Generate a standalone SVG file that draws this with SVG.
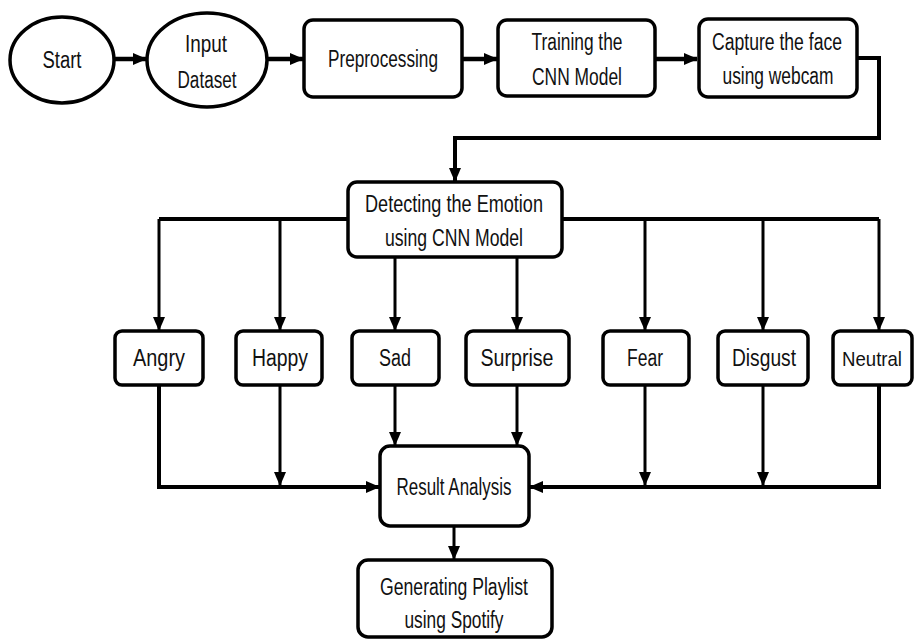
<svg xmlns="http://www.w3.org/2000/svg" width="914" height="643" viewBox="0 0 914 643">
<defs>
<marker id="ah" markerUnits="userSpaceOnUse" markerWidth="14" markerHeight="14" viewBox="0 0 14 14" refX="13" refY="7" orient="auto">
<path d="M0,1 L14,7 L0,13 Z" fill="#000"/>
</marker>
</defs>
<style>
.n{fill:#fff;stroke:#000;stroke-width:3.5}
.t{font-family:"Liberation Sans",Arial,sans-serif;font-size:23px;fill:#111;text-anchor:middle}
.c{fill:none;stroke:#000;stroke-width:3;stroke-linejoin:miter}
.k{stroke-width:4.5}
</style>
<rect width="914" height="643" fill="#fff"/>
<g id="connectors">
<path class="c k" d="M115,59 H146" marker-end="url(#ah)"/>
<path class="c k" d="M268,59 H303" marker-end="url(#ah)"/>
<path class="c k" d="M462,59 H497" marker-end="url(#ah)"/>
<path class="c k" d="M655,59 H697" marker-end="url(#ah)"/>
<path class="c" style="stroke-width:4" d="M857,58 H879 V138 H455 V181" marker-end="url(#ah)"/>
<path class="c" style="stroke-width:4" d="M348,219 H159"/>
<path class="c" style="stroke-width:4" d="M562,219 H879"/>
<path class="c" d="M159,219 V330" marker-end="url(#ah)"/>
<path class="c" d="M280,219 V330" marker-end="url(#ah)"/>
<path class="c" d="M395,257 V330" marker-end="url(#ah)"/>
<path class="c" d="M517,257 V330" marker-end="url(#ah)"/>
<path class="c" d="M645,219 V330" marker-end="url(#ah)"/>
<path class="c" d="M763,219 V330" marker-end="url(#ah)"/>
<path class="c" d="M879,219 V330" marker-end="url(#ah)"/>
<path class="c" d="M159,385 V487 H379" marker-end="url(#ah)" style="stroke-width:4"/>
<path class="c" d="M879,385 V487 H530" marker-end="url(#ah)" style="stroke-width:4"/>
<path class="c" d="M280,385 V485" marker-end="url(#ah)"/>
<path class="c" d="M645,385 V485" marker-end="url(#ah)"/>
<path class="c" d="M763,385 V485" marker-end="url(#ah)"/>
<path class="c" d="M395,385 V445" marker-end="url(#ah)"/>
<path class="c" d="M517,385 V445" marker-end="url(#ah)"/>
<path class="c" d="M454,526 V559" marker-end="url(#ah)"/>
</g>
<g id="start"><ellipse class="n" cx="62" cy="60" rx="52" ry="43"/><text class="t" x="62" y="68" textLength="39" lengthAdjust="spacingAndGlyphs">Start</text></g>
<g id="input"><ellipse class="n" cx="207" cy="60" rx="60" ry="47"/><text class="t" x="206" y="52" textLength="42" lengthAdjust="spacingAndGlyphs">Input</text><text class="t" x="207" y="88" textLength="59" lengthAdjust="spacingAndGlyphs">Dataset</text></g>
<g id="preprocessing"><rect class="n" x="304" y="20" width="158" height="77" rx="9"/><text class="t" x="383" y="67" textLength="110" lengthAdjust="spacingAndGlyphs">Preprocessing</text></g>
<g id="training"><rect class="n" x="498" y="20" width="157" height="76" rx="9"/><text class="t" x="577" y="50" textLength="91" lengthAdjust="spacingAndGlyphs">Training the</text><text class="t" x="577" y="85" textLength="90" lengthAdjust="spacingAndGlyphs">CNN Model</text></g>
<g id="capture"><rect class="n" x="699" y="19" width="158" height="78" rx="9"/><text class="t" x="777" y="50" textLength="130" lengthAdjust="spacingAndGlyphs">Capture the face</text><text class="t" x="778" y="84" textLength="111" lengthAdjust="spacingAndGlyphs">using webcam</text></g>
<g id="detecting"><rect class="n" x="348" y="182" width="214" height="75" rx="9"/><text class="t" x="454" y="212" textLength="178" lengthAdjust="spacingAndGlyphs">Detecting the Emotion</text><text class="t" x="454" y="246" textLength="138" lengthAdjust="spacingAndGlyphs">using CNN Model</text></g>
<g id="angry"><rect class="n" x="115" y="331" width="88" height="54" rx="7"/><text class="t" x="159" y="366" textLength="52" lengthAdjust="spacingAndGlyphs">Angry</text></g>
<g id="happy"><rect class="n" x="236" y="331" width="86" height="54" rx="7"/><text class="t" x="280" y="366" textLength="56" lengthAdjust="spacingAndGlyphs">Happy</text></g>
<g id="sad"><rect class="n" x="352" y="331" width="87" height="54" rx="7"/><text class="t" x="395" y="366" textLength="32" lengthAdjust="spacingAndGlyphs">Sad</text></g>
<g id="surprise"><rect class="n" x="466" y="331" width="103" height="54" rx="7"/><text class="t" x="517" y="366" textLength="73" lengthAdjust="spacingAndGlyphs">Surprise</text></g>
<g id="fear"><rect class="n" x="603" y="331" width="86" height="54" rx="7"/><text class="t" x="645" y="366" textLength="36" lengthAdjust="spacingAndGlyphs">Fear</text></g>
<g id="disgust"><rect class="n" x="718" y="331" width="90" height="54" rx="7"/><text class="t" x="764" y="366" textLength="64" lengthAdjust="spacingAndGlyphs">Disgust</text></g>
<g id="neutral"><rect class="n" x="833" y="331" width="79" height="54" rx="7"/><text class="t" x="872" y="366" style="font-size:21px" textLength="60" lengthAdjust="spacingAndGlyphs">Neutral</text></g>
<g id="result"><rect class="n" x="380" y="446" width="149" height="80" rx="10"/><text class="t" x="454" y="495" textLength="115" lengthAdjust="spacingAndGlyphs">Result Analysis</text></g>
<g id="playlist"><rect class="n" x="358" y="560" width="194" height="77" rx="10"/><text class="t" x="454" y="595" textLength="148" lengthAdjust="spacingAndGlyphs">Generating Playlist</text><text class="t" x="454" y="628" textLength="99" lengthAdjust="spacingAndGlyphs">using Spotify</text></g>
</svg>
